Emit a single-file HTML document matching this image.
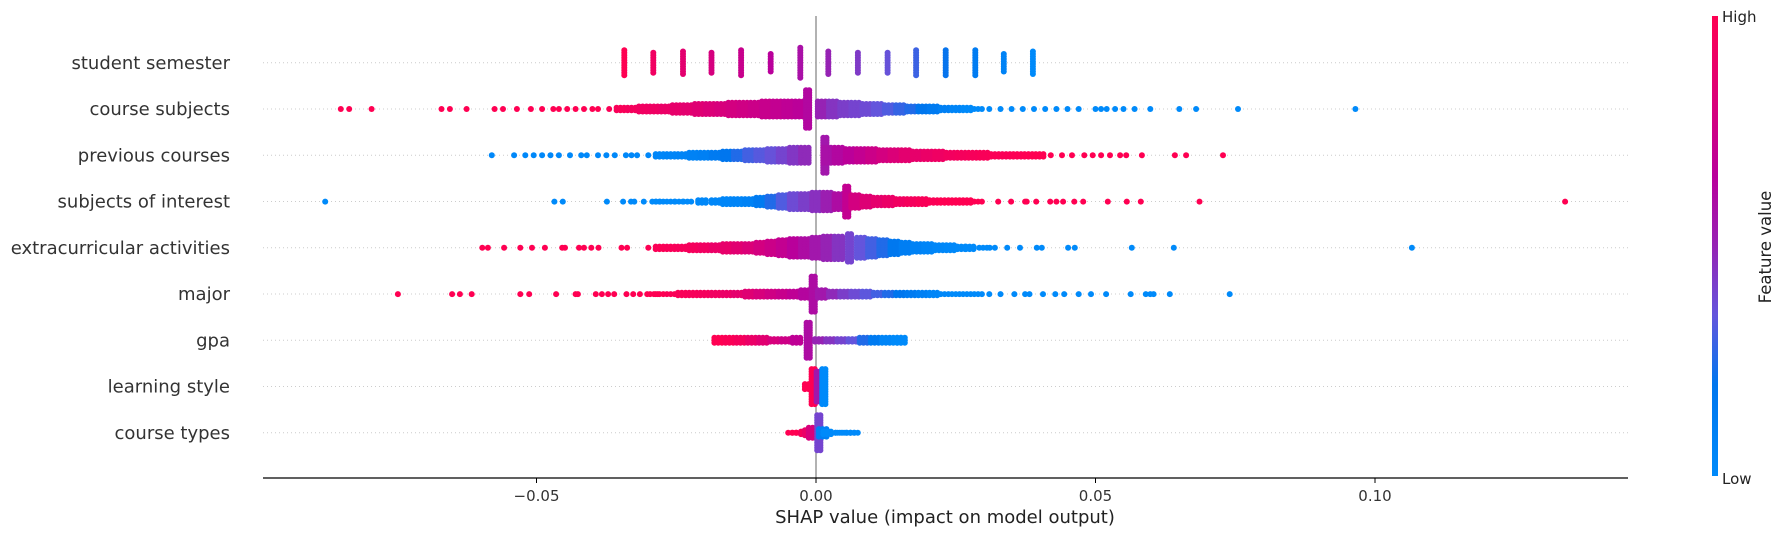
<!DOCTYPE html>
<html><head><meta charset="utf-8"><style>
html,body{margin:0;padding:0;background:#fff;}
svg{display:block;font-family:"DejaVu Sans","Liberation Sans",sans-serif;}
</style></head><body>
<svg id="chart" width="1785" height="536" viewBox="0 0 1785 536" xmlns="http://www.w3.org/2000/svg">
<defs>
<linearGradient id="cbgrad" x1="0" y1="1" x2="0" y2="0">
<stop offset="0" stop-color="rgb(0,138,250)"/><stop offset="0.2" stop-color="rgb(0,118,238)"/><stop offset="0.35" stop-color="rgb(100,85,220)"/><stop offset="0.5" stop-color="rgb(150,35,180)"/><stop offset="0.65" stop-color="rgb(185,0,155)"/><stop offset="1" stop-color="rgb(255,0,82)"/>
</linearGradient>
</defs>
<g id="grid"></g>
<line x1="816" y1="16" x2="816" y2="478" stroke="#999" stroke-width="1.5"/>
<g id="dots"></g>
<g id="ylabels"></g>
<g id="xaxis"></g>
<text x="945" y="523" text-anchor="middle" font-size="18" fill="#222">SHAP value (impact on model output)</text>
<rect x="1712" y="16" width="6" height="460" fill="url(#cbgrad)"/>
<text x="1722" y="22" font-size="15" fill="#222">High</text>
<text x="1722" y="484" font-size="15" fill="#222">Low</text>
<text transform="translate(1771,247) rotate(-90)" text-anchor="middle" font-size="16.5" fill="#222">Feature value</text>
</svg>
<script>
const features = ["student semester","course subjects","previous courses","subjects of interest","extracurricular activities","major","gpa","learning style","course types"];
const xTicks = [-0.05, 0, 0.05, 0.10];
const xTickLabels = ["\u22120.05","0.00","0.05","0.10"];
// each entry: [shap value, feature value (0 low - 1 high), number of samples]
const semesterPts = [[-0.0343,1,11],[-0.0291,0.93,9],[-0.0238,0.86,10],[-0.0187,0.79,9],[-0.0134,0.72,11],[-0.0081,0.65,8],[-0.0028,0.58,13],[0.0022,0.5,10],[0.0075,0.43,9],[0.0128,0.36,9],[0.0179,0.29,11],[0.0232,0.21,11],[0.0285,0.14,11],[0.0336,0.07,8],[0.0388,0,10]];
const subjectsPts = [[-0.085,1,1],[-0.0835,1,1],[-0.0795,1,1],[-0.067,1,1],[-0.0655,1,1],[-0.0625,1,1],[-0.0575,1,1],[-0.056,1,1],[-0.0535,1,1],[-0.051,1,1],[-0.049,1,1],[-0.047,1,1],[-0.046,1,1],[-0.0445,1,1],[-0.043,1,1],[-0.0415,1,1],[-0.040,1,1],[-0.039,1,1],
[-0.037,0.98,1],[-0.035,0.97,2],[-0.033,0.95,2],[-0.031,0.93,3],[-0.029,0.92,3],[-0.027,0.9,3],[-0.025,0.88,4],[-0.023,0.86,4],[-0.021,0.84,5],[-0.019,0.82,5],[-0.017,0.8,5],[-0.015,0.78,6],[-0.013,0.76,6],[-0.011,0.74,6],[-0.009,0.72,7],[-0.007,0.7,7],[-0.005,0.68,7],[-0.003,0.66,7],[-0.0015,0.62,16],[0.001,0.5,7],[0.003,0.45,7],[0.005,0.42,6],[0.007,0.4,6],[0.009,0.38,5],[0.011,0.35,5],[0.013,0.32,4],[0.015,0.28,4],[0.017,0.25,3],[0.019,0.2,3],[0.021,0.15,3],[0.023,0.1,2],[0.025,0.05,2],[0.027,0,2],[0.029,0,1],[0.031,0,1],[0.033,0,1],[0.035,0,1],[0.037,0,1],[0.039,0,1],[0.041,0,1],[0.043,0,1],[0.045,0,1],[0.047,0,1],
[0.050,0,1],[0.051,0,1],[0.052,0,1],[0.0535,0,1],[0.055,0,1],[0.057,0,1],[0.0598,0,1],[0.065,0,1],[0.068,0,1],[0.0755,0,1],[0.0965,0,1]];
const previousPts = [[-0.058,0.02,1],[-0.054,0.02,1],[-0.052,0.02,1],[-0.0505,0.02,1],[-0.049,0.02,1],[-0.0475,0.02,1],[-0.046,0.02,1],[-0.044,0.02,1],[-0.042,0.02,1],[-0.041,0.02,1],[-0.039,0.02,1],[-0.0375,0.02,1],[-0.036,0.02,1],[-0.034,0.02,1],[-0.033,0.02,1],[-0.032,0.02,1],
[-0.030,0.03,1],[-0.028,0.04,2],[-0.026,0.05,2],[-0.024,0.06,2],[-0.022,0.08,3],[-0.020,0.1,3],[-0.018,0.15,3],[-0.016,0.2,4],[-0.014,0.25,4],[-0.012,0.3,5],[-0.010,0.33,5],[-0.008,0.36,6],[-0.006,0.4,6],[-0.004,0.44,7],[-0.002,0.48,7],[0.0016,0.55,15],[0.002,0.58,7],[0.004,0.62,7],[0.006,0.66,6],[0.008,0.7,6],[0.010,0.74,6],[0.012,0.78,5],[0.014,0.82,5],[0.016,0.86,5],[0.018,0.88,4],[0.020,0.9,4],[0.022,0.92,4],[0.024,0.94,3],[0.026,0.95,3],[0.028,0.96,3],[0.030,0.97,3],[0.032,0.98,2],[0.034,0.98,2],[0.036,0.99,2],[0.038,1,2],[0.040,1,2],[0.042,1,1],[0.044,1,1],[0.0458,1,1],
[0.048,1,1],[0.0495,1,1],[0.051,1,1],[0.0526,1,1],[0.0544,1,1],[0.0555,1,1],[0.0583,1,1],[0.0642,1,1],[0.0662,1,1],[0.0728,1,1]];
const interestPts = [[-0.0878,0,1],[-0.0468,0,1],[-0.0453,0,1],[-0.0374,0,1],[-0.0345,0,1],[-0.0331,0,1],[-0.0325,0,1],[-0.0308,0,1],[-0.0286,0,1],[-0.028,0,1],[-0.026,0,1],[-0.0245,0,1],[-0.023,0,1],
[-0.0204,0.02,2],[-0.018,0.03,2],[-0.016,0.04,3],[-0.014,0.05,3],[-0.012,0.08,3],[-0.010,0.15,4],[-0.008,0.25,5],[-0.006,0.32,6],[-0.004,0.38,7],[-0.002,0.42,7],[0,0.46,8],[0.002,0.52,8],[0.004,0.6,7],[0.0055,0.7,13],[0.007,0.78,6],[0.009,0.83,5],[0.011,0.87,4],[0.013,0.9,4],[0.015,0.93,3],[0.017,0.95,3],[0.019,0.97,3],[0.021,0.98,2],[0.023,1,2],[0.025,1,2],[0.027,1,2],[0.029,1,1],
[0.0326,1,1],[0.0349,1,1],[0.0374,1,1],[0.0377,1,1],[0.0394,1,1],[0.0419,1,1],[0.043,1,1],[0.0442,1,1],[0.0462,1,1],[0.0478,1,1],[0.0522,1,1],[0.0556,1,1],[0.0581,1,1],[0.0686,1,1],[0.134,1,1]];
const extraPts = [[-0.0597,1,1],[-0.0587,1,1],[-0.0558,1,1],[-0.0529,1,1],[-0.0508,1,1],[-0.0485,1,1],[-0.0454,1,1],[-0.0449,1,1],[-0.0424,1,1],[-0.0415,1,1],[-0.0402,1,1],[-0.0389,1,1],[-0.0348,1,1],[-0.0338,1,1],
[-0.030,0.99,1],[-0.028,0.98,2],[-0.026,0.97,2],[-0.024,0.96,2],[-0.022,0.95,3],[-0.020,0.93,3],[-0.018,0.9,3],[-0.016,0.88,4],[-0.014,0.85,4],[-0.012,0.82,4],[-0.010,0.78,5],[-0.008,0.74,6],[-0.006,0.7,7],[-0.004,0.65,8],[-0.002,0.6,8],[0,0.55,9],[0.002,0.5,10],[0.004,0.45,10],[0.006,0.4,12],[0.008,0.35,9],[0.010,0.3,8],[0.012,0.25,7],[0.014,0.18,6],[0.016,0.12,5],[0.018,0.08,4],[0.020,0.05,4],[0.022,0.03,3],[0.024,0.02,3],[0.026,0.01,2],[0.0275,0,2],
[0.0299,0,1],[0.0311,0,1],[0.032,0,1],[0.0342,0,1],[0.0365,0,1],[0.0395,0,1],[0.0404,0,1],[0.0451,0,1],[0.0463,0,1],[0.0565,0,1],[0.064,0,1],[0.1066,0,1]];
const majorPts = [[-0.0748,1,1],[-0.0651,1,1],[-0.0637,1,1],[-0.0616,1,1],[-0.0529,1,1],[-0.0513,1,1],[-0.0465,1,1],[-0.043,1,1],[-0.0426,1,1],[-0.0394,1,1],[-0.0383,1,1],[-0.0372,1,1],[-0.0361,1,1],[-0.0339,1,1],[-0.0327,1,1],[-0.0315,1,1],[-0.0302,1,1],[-0.029,1,1],
[-0.028,1,1],[-0.026,0.98,1],[-0.024,0.97,2],[-0.022,0.96,2],[-0.020,0.95,2],[-0.018,0.93,2],[-0.016,0.9,2],[-0.014,0.87,2],[-0.012,0.84,3],[-0.010,0.8,3],[-0.008,0.76,3],[-0.006,0.72,3],[-0.004,0.68,3],[-0.002,0.63,4],[-0.0005,0.6,15],[0.001,0.55,4],[0.003,0.48,3],[0.005,0.42,3],[0.007,0.38,3],[0.009,0.34,3],[0.011,0.3,2],[0.013,0.25,2],[0.015,0.2,2],[0.017,0.15,2],[0.019,0.1,2],[0.021,0.05,2],[0.023,0.02,1],[0.025,0,1],[0.027,0,1],[0.029,0,1],[0.031,0,1],[0.033,0,1],
[0.0355,0,1],[0.0374,0,1],[0.0382,0,1],[0.0406,0,1],[0.0428,0,1],[0.0444,0,1],[0.047,0,1],[0.0492,0,1],[0.0519,0,1],[0.0563,0,1],[0.059,0,1],[0.0598,0,1],[0.0604,0,1],[0.0633,0,1],[0.074,0,1]];
const gpaPts = [[-0.0175,1,3],[-0.0155,0.98,3],[-0.0135,0.95,3],[-0.0115,0.9,3],[-0.0095,0.85,3],[-0.0075,0.8,2],[-0.0055,0.75,2],[-0.0035,0.68,3],[-0.0014,0.6,15],[0.0005,0.5,2],[0.0025,0.45,2],[0.0045,0.4,2],[0.0065,0.35,2],[0.0085,0.25,3],[0.0105,0.15,3],[0.0125,0.05,3],[0.0145,0,3],[0.0152,0,3]];
const stylePts = [[-0.0013,1,3],[-0.0005,1,15],[0.0004,0.55,13],[0.0014,0,15]];
const typesPts = [[-0.0043,1,1],[-0.0035,1,1],[-0.0028,1,1],[-0.002,0.95,2],[-0.0013,0.9,3],[-0.0006,0.8,5],[0.0005,0.4,15],[0.0012,0.1,4],[0.002,0,2],[0.0028,0,1],[0.0035,0,1],[0.0045,0,1],[0.0055,0,1],[0.0062,0,1],[0.0068,0,1]];
const allPts = [semesterPts,subjectsPts,previousPts,interestPts,extraPts,majorPts,gpaPts,stylePts,typesPts];

const NS = "http://www.w3.org/2000/svg";
const X0 = 816, PXU = 5590, ROW0 = 62.8, ROWH = 46.25, LEFT = 263, RIGHT = 1628, AXY = 478;
const rowSpread = [0,1,1,1,1,1,1,1,1];
function xs(v){ return X0 + v*PXU; }
function ys(i){ return ROW0 + i*ROWH; }
const stops = [[0,[0,138,250]],[0.2,[0,118,238]],[0.35,[100,85,220]],[0.5,[150,35,180]],[0.65,[185,0,155]],[1,[255,0,82]]];
function cmap(t){
  t = Math.max(0, Math.min(1, t));
  for (let k=1;k<stops.length;k++){
    if (t <= stops[k][0]){
      const a=stops[k-1], b=stops[k], f=(t-a[0])/(b[0]-a[0]);
      return "rgb("+[0,1,2].map(j=>Math.round(a[1][j]+(b[1][j]-a[1][j])*f)).join(",")+")";
    }
  }
  return "rgb(255,0,82)";
}
function mk(tag, attrs){ const e=document.createElementNS(NS,tag); for (const k in attrs) e.setAttribute(k, attrs[k]); return e; }

const grid = document.getElementById("grid");
const ylab = document.getElementById("ylabels");
features.forEach((f,i)=>{
  const gl = mk("line",{x1:LEFT,x2:RIGHT,y1:ys(i),y2:ys(i),stroke:"#ccc","stroke-width":1,"stroke-dasharray":"1,3"});
  
  
  grid.appendChild(gl);
  const t = mk("text",{x:230,y:ys(i)+6,"text-anchor":"end","font-size":18,fill:"#333"});
  t.textContent = f;
  
  
  ylab.appendChild(t);
});

const dots = document.getElementById("dots");
allPts.forEach((pts,i)=>{
  const g = mk("g",{});
  
  
  pts.forEach(p=>{
    const n = p[2], col = cmap(p[1]);
    let offs = [0];
    if (rowSpread[i] && n > 1) offs = n >= 12 ? [-1.6, 1.6] : [-3.8, 0, 3.8];
    else if (rowSpread[i] && n === 1 && p[0] > -0.03 && p[0] < 0.03) offs = [-3.8, 0, 3.8];
    for (let k=0;k<n;k++){
      const dy = (k-(n-1)/2)*2.5;
      offs.forEach(dx=>{
        const c = mk("circle",{cx:(xs(p[0])+dx).toFixed(1),cy:(ys(i)+dy).toFixed(1),r:3,fill:col});
        
        
        g.appendChild(c);
      });
    }
  });
  dots.appendChild(g);
});

const xa = document.getElementById("xaxis");
const al = mk("line",{x1:LEFT,x2:RIGHT,y1:AXY,y2:AXY,stroke:"#000","stroke-width":1.2});


xa.appendChild(al);
xTicks.forEach((v,j)=>{
  const tk = mk("line",{x1:xs(v),x2:xs(v),y1:AXY,y2:AXY+5,stroke:"#000","stroke-width":1});
  
  
  xa.appendChild(tk);
  const t = mk("text",{x:xs(v),y:AXY+23,"text-anchor":"middle","font-size":15,fill:"#333"});
  t.textContent = xTickLabels[j];
  
  
  xa.appendChild(t);
});
</script>
</body></html>
